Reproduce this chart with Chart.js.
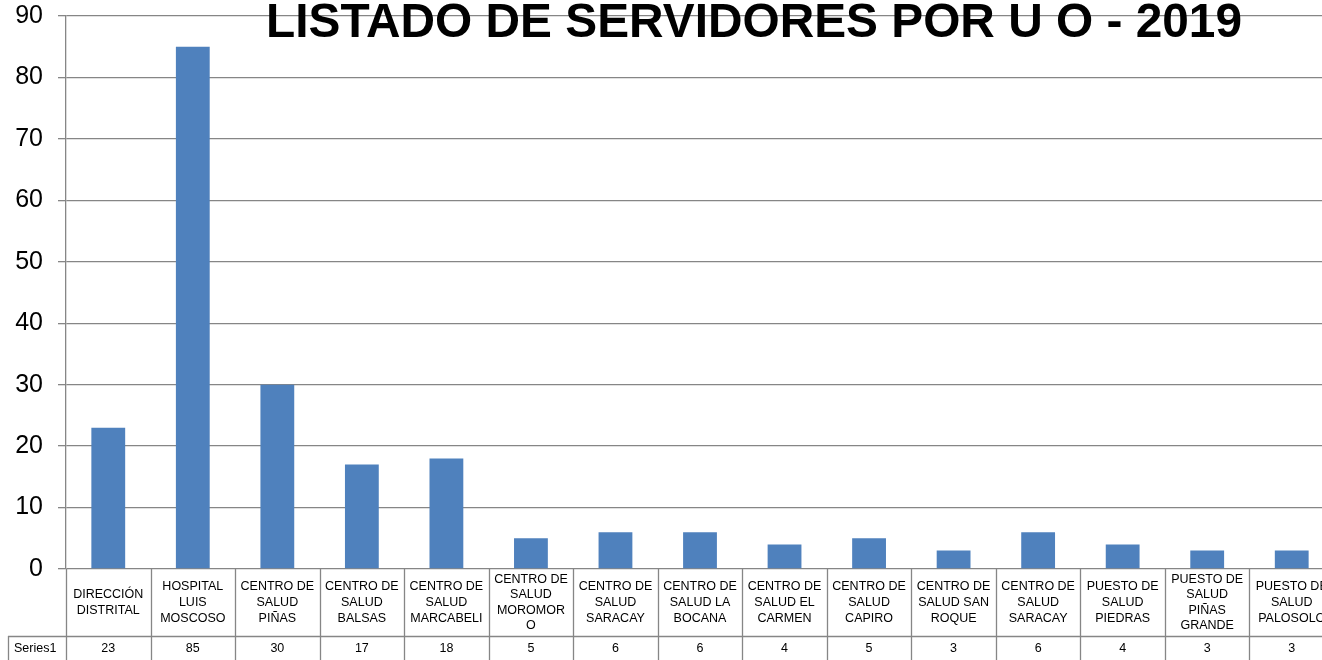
<!DOCTYPE html>
<html lang="es">
<head>
    <meta charset="UTF-8">
    <title>Listado de servidores por U O - 2019</title>
    <script src="https://cdn.jsdelivr.net/npm/chart.js"></script>
    <style>
        body { margin: 0; width: 1322px; height: 660px; overflow: hidden; background: #fff; }
        #wrap { width: 1334px; height: 660px; }
    </style>
</head>
<body>
    <div id="wrap"><canvas id="servidores_chart" width="1334" height="660"></canvas></div>

    <script>
        // Unidades operativas (cada línea como aparece en la tabla)
        const categorias = [
            ['DIRECCIÓN', 'DISTRITAL'],
            ['HOSPITAL', 'LUIS', 'MOSCOSO'],
            ['CENTRO DE', 'SALUD', 'PIÑAS'],
            ['CENTRO DE', 'SALUD', 'BALSAS'],
            ['CENTRO DE', 'SALUD', 'MARCABELI'],
            ['CENTRO DE', 'SALUD', 'MOROMOR', 'O'],
            ['CENTRO DE', 'SALUD', 'SARACAY'],
            ['CENTRO DE', 'SALUD LA', 'BOCANA'],
            ['CENTRO DE', 'SALUD EL', 'CARMEN'],
            ['CENTRO DE', 'SALUD', 'CAPIRO'],
            ['CENTRO DE', 'SALUD SAN', 'ROQUE'],
            ['CENTRO DE', 'SALUD', 'SARACAY'],
            ['PUESTO DE', 'SALUD', 'PIEDRAS'],
            ['PUESTO DE', 'SALUD', 'PIÑAS', 'GRANDE'],
            ['PUESTO DE', 'SALUD', 'PALOSOLO']
        ];
        const series1 = [23, 85, 30, 17, 18, 5, 6, 6, 4, 5, 3, 6, 4, 3, 3];
        const nombreSerie = 'Series1';
        const titulo = 'LISTADO DE SERVIDORES POR U O - 2019';

        const gris = '#868686';

        // Tabla de datos bajo el eje (etiquetas + fila Series1)
        const tablaDatos = {
            id: 'tablaDatos',
            afterDraw(chart) {
                const ctx = chart.ctx;
                const x = chart.scales.x;
                const area = chart.chartArea;
                const ancho = (area.right - area.left) / categorias.length;
                const filaTop = area.bottom;
                const filaMid = filaTop + 67;
                const filaBot = chart.height + 2;

                ctx.save();
                ctx.strokeStyle = gris;
                ctx.lineWidth = 1.3;
                ctx.beginPath();
                ctx.moveTo(8, filaMid + 0.5);
                ctx.lineTo(area.right, filaMid + 0.5);
                for (let i = 0; i <= categorias.length; i++) {
                    const px = Math.round(area.left + i * ancho) + 0.5;
                    ctx.moveTo(px, filaTop);
                    ctx.lineTo(px, filaBot);
                }
                ctx.moveTo(8.5, filaMid);
                ctx.lineTo(8.5, filaBot);
                ctx.stroke();

                ctx.fillStyle = '#000';
                ctx.font = '12.5px Arial, "Liberation Sans"';
                ctx.textAlign = 'center';
                ctx.textBaseline = 'middle';
                const centro = (filaTop + filaMid) / 2;
                const alto = 15.6;
                categorias.forEach((lineas, i) => {
                    const cx = x.getPixelForValue(i);
                    const y0 = centro - (lineas.length - 1) * alto / 2;
                    lineas.forEach((t, j) => ctx.fillText(t, cx, y0 + j * alto));
                    ctx.fillText(String(series1[i]), cx, filaMid + 13);
                });
                ctx.textAlign = 'left';
                ctx.fillText(nombreSerie, 14, filaMid + 13);
                ctx.restore();
            }
        };

        // Título comprimido sobre el área de trazado
        const tituloPlugin = {
            id: 'tituloPlugin',
            afterDraw(chart) {
                const ctx = chart.ctx;
                ctx.save();
                ctx.font = 'bold 49px Arial, "Liberation Sans"';
                const w = ctx.measureText(titulo).width;
                ctx.translate(754, 37);
                ctx.scale(976 / w, 1);
                ctx.fillStyle = '#000';
                ctx.textAlign = 'center';
                ctx.textBaseline = 'alphabetic';
                ctx.fillText(titulo, 0, 0);
                ctx.restore();
            }
        };

        const ctx = document.getElementById('servidores_chart').getContext('2d');
        new Chart(ctx, {
            type: 'bar',
            data: {
                labels: categorias,
                datasets: [{
                    label: nombreSerie,
                    data: series1,
                    backgroundColor: '#4F81BD',
                    categoryPercentage: 1,
                    barPercentage: 0.4
                }]
            },
            options: {
                responsive: false,
                animation: false,
                layout: { padding: { top: 16, bottom: 91, left: 0, right: 0 } },
                plugins: {
                    legend: { display: false },
                    tooltip: { enabled: false }
                },
                scales: {
                    x: { display: false },
                    y: {
                        min: 0,
                        max: 90,
                        ticks: {
                            stepSize: 10,
                            padding: 15,
                            color: '#000',
                            font: { family: 'Arial, "Liberation Sans"', size: 25 }
                        },
                        grid: { color: gris, tickColor: gris, tickLength: 8, lineWidth: 1.3 },
                        border: { color: gris, width: 1.3 },
                        afterFit(scale) {
                            scale.width = 66;
                            scale.paddingTop = 0;
                            scale.paddingBottom = 0;
                        }
                    }
                }
            },
            plugins: [tablaDatos, tituloPlugin]
        });
    </script>
</body>
</html>
